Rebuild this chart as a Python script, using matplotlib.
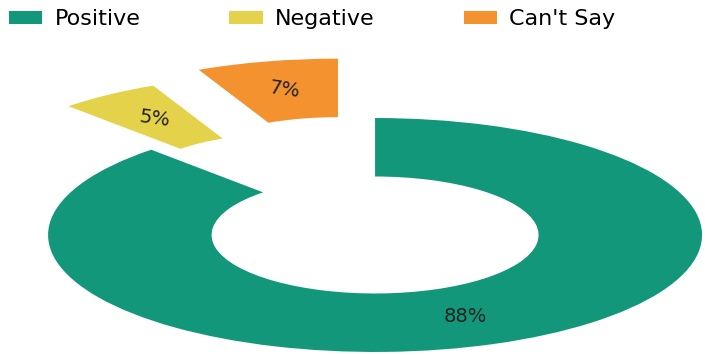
import matplotlib.pyplot as plt

labels = ["Positive", "Negative", "Can't Say"]
shares = [88, 5, 7]
colors = ["#13977a", "#e4d24a", "#f3922f"]
explode = [0, 0.45, 0.52]

plt.rcParams["font.family"] = ["DejaVu Sans"]

fig = plt.figure(figsize=(7.05, 3.55), dpi=100)
ax = fig.add_axes([0, 0, 1, 1])

wedges, texts, pcts = ax.pie(
    shares,
    colors=colors,
    explode=explode,
    startangle=90,
    counterclock=False,
    autopct="%d%%",
    pctdistance=0.75,
    wedgeprops=dict(width=0.5, linewidth=0),
    textprops=dict(fontsize=14, color="#222222"),
)

# the two small exploded slices carry slightly tilted labels
for t in pcts[1:]:
    t.set_rotation(-8)

# squashed donut: wide horizontally, flat vertically
ax.set_aspect("auto")
ax.set_xlim(-1.147, 1.009)
ax.set_ylim(-1.026, 2.009)
ax.axis("off")

fig.legend(
    wedges, labels,
    loc="center left", bbox_to_anchor=(0.013, 0.946),
    ncol=3, frameon=False, fontsize=16,
    handlelength=1.5, handleheight=0.55, handletextpad=0.55,
    columnspacing=4.0, borderaxespad=0, borderpad=0,
)

fig.savefig("out.png", dpi=100)
